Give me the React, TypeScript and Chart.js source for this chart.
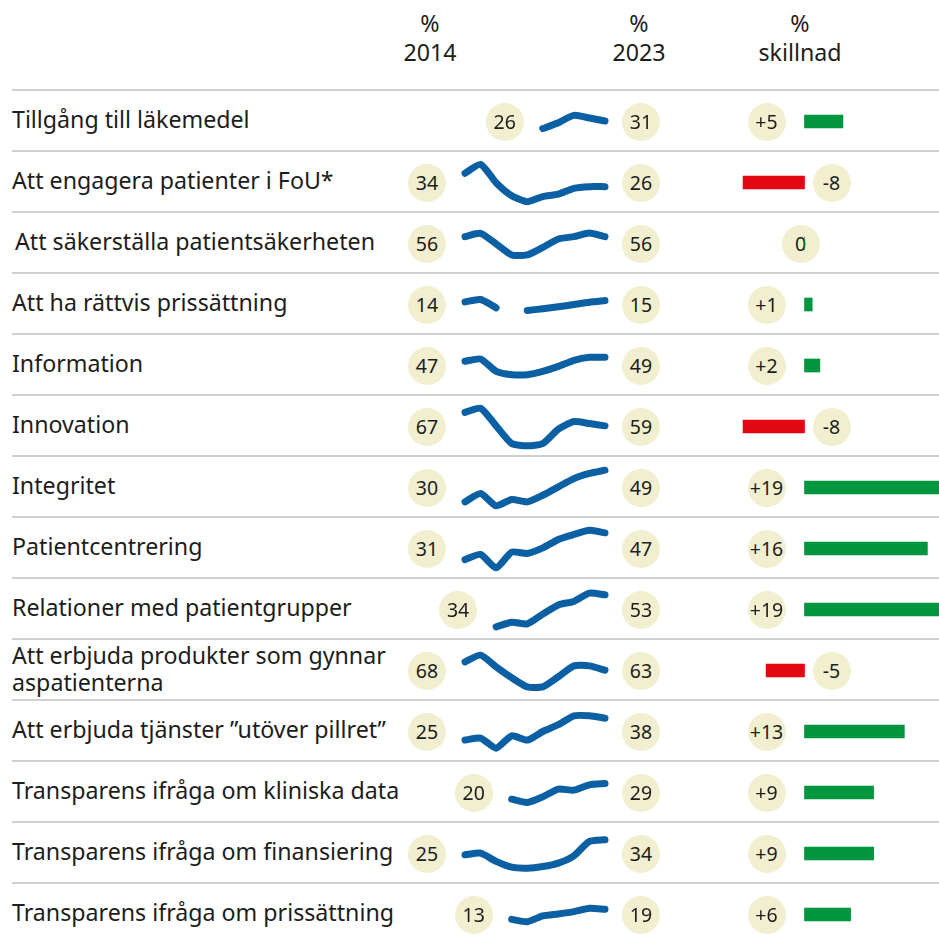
import React, { useEffect, useRef } from "react";
import { Chart, registerables } from "chart.js";

Chart.register(...registerables);

// ---------- DATA ----------
const categories: string[] = [
  "Tillgång till läkemedel",
  "Att engagera patienter i FoU*",
  "Att säkerställa patientsäkerheten",
  "Att ha rättvis prissättning",
  "Information",
  "Innovation",
  "Integritet",
  "Patientcentrering",
  "Relationer med patientgrupper",
  "Att erbjuda produkter som gynnar\naspatienterna",
  "Att erbjuda tjänster ”utöver pillret”",
  "Transparens ifråga om kliniska data",
  "Transparens ifråga om finansiering",
  "Transparens ifråga om prissättning",
];

const years: string[] = ["2014", "2015", "2016", "2017", "2018", "2019", "2020", "2021", "2022", "2023"];

const values2014: number[] = [26, 34, 56, 14, 47, 67, 30, 31, 34, 68, 25, 20, 25, 13];
const values2023: number[] = [31, 26, 56, 15, 49, 59, 49, 47, 53, 63, 38, 29, 34, 19];
const difference: number[] = [5, -8, 0, 1, 2, -8, 19, 16, 19, -5, 13, 9, 9, 6];

const tillgang = [null, null, null, null, null, 26.4, 30, 34.4, 32.8, 31];
const engagera = [34.1, 39.5, 28.4, 20.5, 16.9, 20, 21.4, 25, 26, 26];
const sakerstalla = [56, 58, 51.6, 44.9, 44.9, 49.5, 54.6, 56, 58.2, 56];
const rattvis = [14.2, 15.6, 10.6, null, 9, 10, 11.2, 12.6, 14, 15];
const information = [46.6, 48, 40.5, 38.5, 38.5, 40.5, 43.5, 47.2, 49, 49];
const innovation = [67.1, 69.7, 59, 48.3, 46.9, 48.3, 57, 61.6, 60.4, 59];
const integritet = [29.8, 34.9, 27.4, 31.2, 29.8, 33.8, 38.9, 43.9, 47, 49];
const patientcentrering = [30.8, 33.9, 25.8, 35.3, 34.5, 37.9, 43, 46, 48.6, 47];
const relationer = [null, null, 33.6, 36.4, 35.4, 41.3, 46.9, 49, 54, 53];
const produkter = [68, 72.1, 65, 58.4, 52.9, 52.9, 59, 65.6, 65.6, 63];
const tjanster = [24.7, 25.9, 19.8, 27.3, 24.7, 29.9, 34, 39.4, 39.4, 38];
const kliniska = [null, null, null, 19.5, 17.5, 20.9, 25.6, 25, 28.2, 29];
const finansiering = [24.9, 25.9, 20.9, 17.4, 16.8, 17.8, 19.9, 24.3, 33, 34];
const prissattning = [null, null, null, 12.9, 11.5, 15, 16.2, 17.6, 19.6, 19];

const trends: (number | null)[][] = [
  tillgang, engagera, sakerstalla, rattvis, information, innovation, integritet,
  patientcentrering, relationer, produkter, tjanster, kliniska, finansiering, prissattning,
];

// ---------- STYLE / LAYOUT ----------
const FONT = "'Noto Sans', 'Open Sans', sans-serif";
const TEXT = "#1d1d1b";
const LINE = "#0b5fa3";
const BUBBLE = "#f1efd0";
const GREEN = "#00953f";
const RED = "#e30613";
const SEP = "#d0d0d0";

const ROW_TOP = 89;
const ROW_H = 61;
const SPARK_LEFT = 455;
const SPARK_W = 160;
const SPARK_PAD = 10;
const SPARK_K = 1.65; // px per unit
const BAR_LEFT = 720;
const BAR_W = 219;
const BAR_K = 7.68;
const BAR_ZERO = 804.5;

function Bubble({ cx, cy, text }: { cx: number; cy: number; text: string }) {
  const d = 38;
  return (
    <div
      style={{
        position: "absolute",
        left: cx - d / 2,
        top: cy - d / 2,
        width: d,
        height: d,
        borderRadius: "50%",
        background: BUBBLE,
        display: "flex",
        alignItems: "center",
        justifyContent: "center",
        fontSize: 19.5,
        color: TEXT,
        lineHeight: 1,
      }}
    >
      {text}
    </div>
  );
}

function Sparkline({ data, top }: { data: (number | null)[]; top: number }) {
  const ref = useRef<HTMLCanvasElement>(null);
  useEffect(() => {
    const vals = data.filter((v): v is number => v !== null);
    const mid = (Math.min(...vals) + Math.max(...vals)) / 2;
    const yMax = mid + 33 / SPARK_K;
    const yMin = yMax - ROW_H / SPARK_K;
    const chart = new Chart(ref.current!, {
      type: "line",
      data: {
        labels: years,
        datasets: [
          {
            data: data as any,
            borderColor: LINE,
            borderWidth: 7,
            pointRadius: 0,
            tension: 0.2,
            spanGaps: false,
            borderCapStyle: "round",
            borderJoinStyle: "round",
            clip: false as any,
          },
        ],
      },
      options: {
        animation: false,
        responsive: false,
        events: [],
        layout: { padding: { left: SPARK_PAD, right: SPARK_PAD, top: 0, bottom: 0 } },
        plugins: { legend: { display: false }, tooltip: { enabled: false } },
        scales: {
          x: { display: false },
          y: { display: false, min: yMin, max: yMax },
        },
      },
    });
    return () => chart.destroy();
  }, [data]);
  return (
    <canvas
      ref={ref}
      width={SPARK_W}
      height={ROW_H}
      style={{ position: "absolute", left: SPARK_LEFT, top, width: SPARK_W, height: ROW_H }}
    />
  );
}

function DiffBars() {
  const ref = useRef<HTMLCanvasElement>(null);
  const height = ROW_H * categories.length;
  useEffect(() => {
    const chart = new Chart(ref.current!, {
      type: "bar",
      data: {
        labels: categories,
        datasets: [
          {
            data: difference,
            backgroundColor: difference.map((v) => (v < 0 ? RED : GREEN)),
            borderWidth: 0,
            barThickness: 13,
          },
        ],
      },
      options: {
        indexAxis: "y",
        animation: false,
        responsive: false,
        events: [],
        layout: { padding: 0 },
        plugins: { legend: { display: false }, tooltip: { enabled: false } },
        scales: {
          x: {
            display: false,
            min: -(BAR_ZERO - BAR_LEFT) / BAR_K,
            max: (BAR_LEFT + BAR_W - BAR_ZERO) / BAR_K,
          },
          y: { display: false },
        },
      },
    });
    return () => chart.destroy();
  }, []);
  return (
    <canvas
      ref={ref}
      width={BAR_W}
      height={height}
      style={{ position: "absolute", left: BAR_LEFT, top: ROW_TOP + 1.5, width: BAR_W, height }}
    />
  );
}

function Header({ cx, line2 }: { cx: number; line2: string }) {
  return (
    <div
      style={{
        position: "absolute",
        left: cx - 60,
        top: 9,
        width: 120,
        textAlign: "center",
        fontSize: 23.2,
        lineHeight: "29px",
        color: TEXT,
      }}
    >
      <div>%</div>
      <div>{line2}</div>
    </div>
  );
}

export default function App() {
  const step = (SPARK_W - 2 * SPARK_PAD) / (years.length - 1);
  return (
    <div
      style={{
        position: "fixed",
        left: 0,
        top: 0,
        width: 939,
        height: 935,
        overflow: "hidden",
        background: "#ffffff",
        fontFamily: FONT,
        color: TEXT,
      }}
    >
      <Header cx={430} line2="2014" />
      <Header cx={639} line2="2023" />
      <Header cx={800} line2="skillnad" />

      {categories.map((cat, i) => {
        const top = ROW_TOP + i * ROW_H;
        const cy = top + 32.5;
        const firstIdx = trends[i].findIndex((v) => v !== null);
        const firstX = SPARK_LEFT + SPARK_PAD + firstIdx * step;
        const d = difference[i];
        const diffX = d > 0 ? BAR_ZERO - 38 : d < 0 ? BAR_ZERO + 27 : BAR_ZERO - 4;
        return (
          <React.Fragment key={cat}>
            <div
              style={{
                position: "absolute",
                left: 12,
                top,
                width: 927,
                height: 0,
                borderTop: `2px solid ${SEP}`,
              }}
            />
            <div
              style={{
                position: "absolute",
                left: i === 2 ? 15 : 12,
                top: top,
                height: ROW_H,
                width: 420,
                display: "flex",
                alignItems: "center",
                fontSize: 23.2,
                lineHeight: "27px",
                whiteSpace: "pre-line",
                color: TEXT,
              }}
            >
              {cat}
            </div>
            <Sparkline data={trends[i]} top={top} />
            <Bubble cx={firstX - 38} cy={cy} text={String(values2014[i])} />
            <Bubble cx={641} cy={cy} text={String(values2023[i])} />
            <Bubble cx={diffX} cy={cy} text={d > 0 ? `+${d}` : String(d)} />
          </React.Fragment>
        );
      })}
      <DiffBars />
    </div>
  );
}
